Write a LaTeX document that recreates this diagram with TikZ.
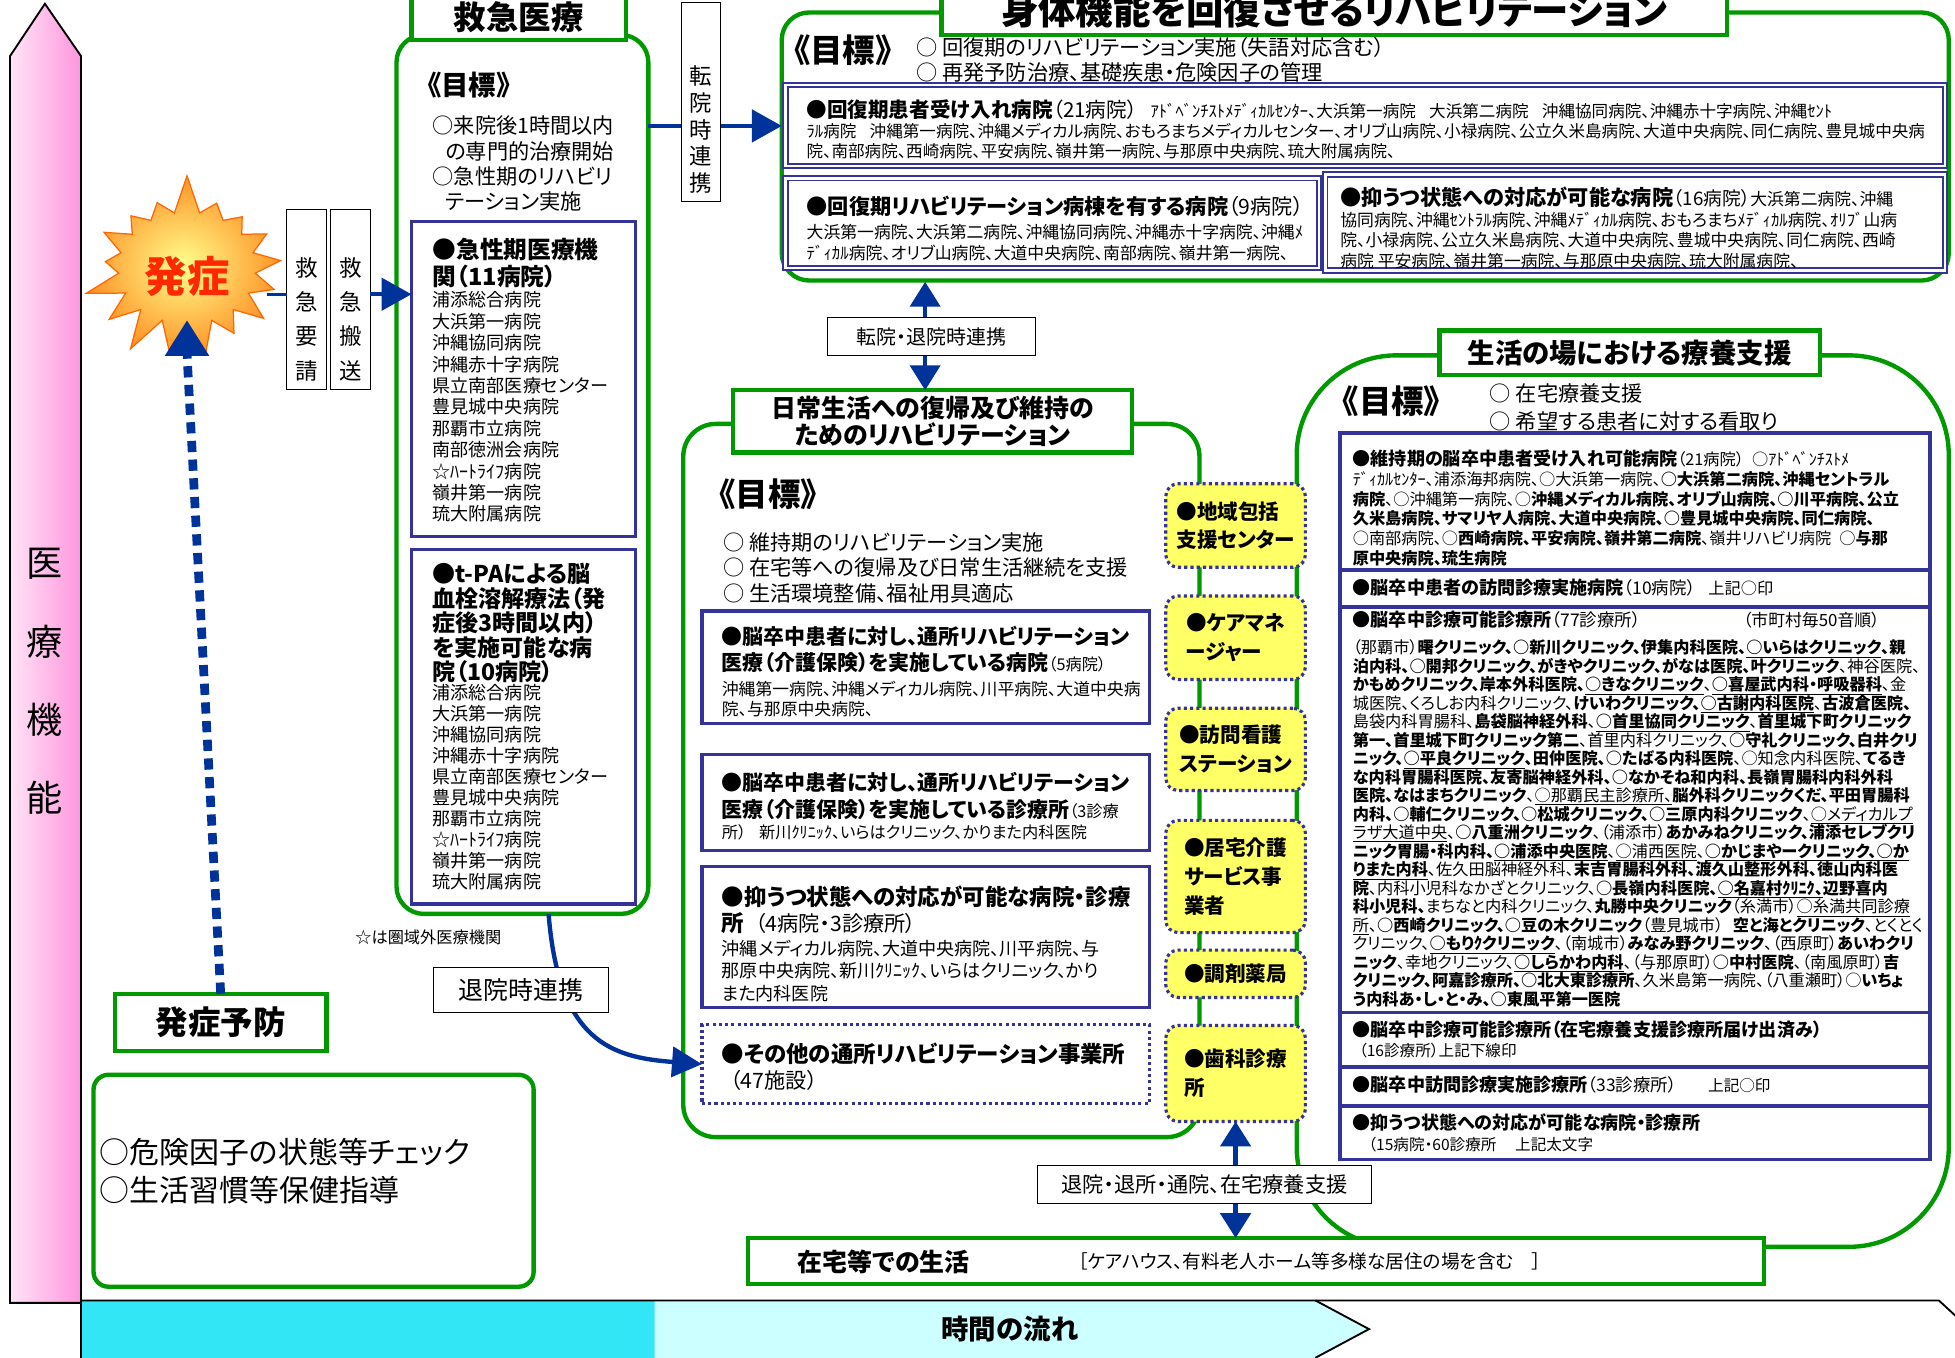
\documentclass[tikz,border=0pt]{standalone}
\usepackage{fontspec}
\setmainfont{Noto Sans CJK JP}[RawFeature=+palt]
\usetikzlibrary{shapes.symbols,arrows.meta,calc}
\definecolor{grn}{RGB}{0,153,0}
\definecolor{blu}{RGB}{51,51,153}
\definecolor{abl}{RGB}{0,51,153}
\definecolor{ylw}{RGB}{255,255,102}
\definecolor{cyd}{RGB}{51,230,245}
\definecolor{cyl}{RGB}{204,255,255}
\definecolor{pkl}{RGB}{255,228,246}
\definecolor{pkd}{RGB}{255,150,222}
\definecolor{hot}{RGB}{255,40,0}
\newcommand\fz[2]{\fontsize{#1}{#2}\selectfont}
\newcommand\udl[1]{\underline{#1}}
\begin{document}
\begin{tikzpicture}[x=1pt,y=-1pt,
  every node/.style={inner sep=0pt, outer sep=0pt},
  txt/.style={anchor=north west, align=left},
  gbox/.style={draw=grn, line width=3.5pt},
  gtitle/.style={draw=grn, line width=3.5pt, fill=white, font=\bfseries, align=center},
  bbox/.style={draw=blu, line width=2.5pt},
  dbox/.style={draw=blu, double=white, double distance=2pt, line width=1.5pt},
  ybox/.style={draw=blu, line width=2.5pt, dash pattern=on 2.5pt off 2.5pt, fill=ylw, rounded corners=10pt, minimum width=112pt, align=left, font=\bfseries\fz{16.5}{23}},
  lbox/.style={draw=black, line width=0.8pt, fill=white},
  tipa/.style={-{Triangle[length=24pt,width=26pt]}},
  tipb/.style={{Triangle[length=20pt,width=24pt]}-{Triangle[length=20pt,width=24pt]}},
]
\useasboundingbox (0,0) rectangle (1568,1089);
\fill[white] (0,0) rectangle (1568,1089);

% ---- left vertical arrow
\path[draw=black, line width=1.5pt, left color=pkl, right color=pkd] (8,1045) -- (8,45) -- (36,3) -- (65,45) -- (65,1045) -- cycle;
\node[font=\fz{29}{29}] (v1) at (36,452) {医};
\node[font=\fz{29}{29}] (v2) at (36,515) {療};
\node[font=\fz{29}{29}] (v3) at (36,577) {機};
\node[font=\fz{29}{29}] (v4) at (36,640) {能};

% ---- bottom time arrow
\fill[cyd] (65,1043) rectangle (525,1095);
\fill[cyl] (525,1043) -- (1055,1043) -- (1098,1066) -- (1055,1089) -- (525,1095) -- cycle;
\draw[line width=1.5pt] (65,1095) -- (65,1043) -- (1555,1043) -- (1580,1066);
\draw[line width=1.5pt] (1055,1043) -- (1098,1066) -- (1055,1089);
\node[font=\bfseries\fz{22}{22}] (flow) at (810,1066) {時間の流れ};

% ---- onset burst
\node[starburst, starburst points=17, starburst point height=32pt, minimum width=174pt, minimum height=154pt, draw=orange!80!red, line width=1pt, inner color=yellow!45, outer color=orange!85, random starburst=7] (burst) at (150,215) {};
\node[font=\bfseries\fz{34}{34}, text=hot] (onset) at (150,222) {発症};

% ---- request / transport boxes
\node[lbox, minimum width=32pt, minimum height=144pt] (reqbox) at (246,240) {};
\node[font=\fz{18}{27.5}, align=center] (reqtxt) at (246,256) {救\\急\\要\\請};
\node[lbox, minimum width=32pt, minimum height=144pt] (trbox) at (281,240) {};
\node[font=\fz{18}{27.5}, align=center] (trtxt) at (281,256) {救\\急\\搬\\送};
\coordinate (bse) at (214,236);
\draw[abl, line width=2.5pt] (bse) -- (bse -| reqbox.west);

% ---- prevention
\node[gbox, fill=white, minimum width=170pt, minimum height=46pt, font=\bfseries\fz{26}{26}] (prev) at (177,820) {発症予防};
\node[gbox, rounded corners=12pt, minimum width=353pt, minimum height=170pt] (prevbig) at (251.5,947) {};
\node[txt, font=\fz{24}{30}] (prevtxt) at (80,913) {○危険因子の状態等チェック\\○生活習慣等保健指導};
\coordinate (btip) at (150,258);
\draw[abl, line width=7pt, dash pattern=on 9pt off 6pt] (prev.north) -- ($(btip)+(0,26)$);
\draw[abl, line width=1pt, fill=abl] (btip) -- ++(-17,27) -- ++(34,0) -- cycle;

% ---- emergency column
\node[gbox, rounded corners=22pt, minimum width=202pt, minimum height=705pt] (emg) at (419,380.5) {};
\node[gtitle, minimum width=172pt, minimum height=36pt, font=\bfseries\fz{26}{26}] (emgt) at (416,14) {救急医療};
\node[anchor=west, font=\bfseries\fz{22}{22}] (emggoal) at (343,68) {《目標》};
\node[txt, font=\fz{17}{20.3}] (emgtxt) at (347,93) {○来院後1時間以内\\\hspace*{0.6em}の専門的治療開始\\○急性期のリハビリ\\\hspace*{0.6em}テーション実施};
\node[bbox, minimum width=180pt, minimum height=252pt] (acA) at (420,304) {};
\node[txt, font=\bfseries\fz{19}{21.5}] (acAh) at (347,191) {●急性期医療機\\関（11病院）};
\node[txt, font=\fz{14.5}{17.15}] (acAl) at (347,234) {浦添総合病院\\大浜第一病院\\沖縄協同病院\\沖縄赤十字病院\\県立南部医療センター\\豊見城中央病院\\那覇市立病院\\南部徳洲会病院\\☆ﾊｰﾄﾗｲﾌ病院\\嶺井第一病院\\琉大附属病院};
\node[bbox, minimum width=180pt, minimum height=284pt] (acB) at (420,583) {};
\node[txt, font=\bfseries\fz{18.5}{19.6}] (acBh) at (347,452) {●t-PAによる脳\\血栓溶解療法（発\\症後3時間以内）\\を実施可能な病\\院（10病院）};
\node[txt, font=\fz{14.5}{16.8}] (acBl) at (347,549) {浦添総合病院\\大浜第一病院\\沖縄協同病院\\沖縄赤十字病院\\県立南部医療センター\\豊見城中央病院\\那覇市立病院\\☆ﾊｰﾄﾗｲﾌ病院\\嶺井第一病院\\琉大附属病院};
\node[anchor=west, font=\fz{13}{13}] (outnote) at (285,752) {☆は圏域外医療機関};

\draw[abl, line width=3pt, tipa] (trbox.east |- bse) -- (acA.west |- bse);

% ---- recovery rehab box
\node[gbox, rounded corners=22pt, minimum width=936pt, minimum height=215pt] (rec) at (1095,117.5) {};
\node[gtitle, minimum width=630pt, minimum height=40pt, font=\bfseries\fz{30}{30}] (rect) at (1070,8) {身体機能を回復させるリハビリテーション};
\node[anchor=west, font=\bfseries\fz{26}{26}] (recgoal) at (637,40) {《目標》};
\node[txt, font=\fz{17}{20}] (rectxt) at (735,30) {○ 回復期のリハビリテーション実施（失語対応含む）\\○ 再発予防治療、基礎疾患・危険因子の管理};
\node[dbox, minimum width=930pt, minimum height=65pt] (r1) at (1095,100.5) {};
\node[txt, font=\fz{13.3}{16}] (r1t) at (647,80) {{\bfseries\fz{16.5}{16}●回復期患者受け入れ病院}{\fz{16.5}{16}（21病院）}\hspace{0.8em}ｱﾄﾞﾍﾞﾝﾁｽﾄﾒﾃﾞｨｶﾙｾﾝﾀｰ、大浜第一病院\hspace{0.8em}大浜第二病院\hspace{0.8em}沖縄協同病院、沖縄赤十字病院、沖縄ｾﾝﾄ\\ﾗﾙ病院\hspace{0.8em}沖縄第一病院、沖縄メディカル病院、おもろまちメディカルセンター、オリブ山病院、小禄病院、公立久米島病院、大道中央病院、同仁病院、豊見城中央病\\院、南部病院、西崎病院、平安病院、嶺井第一病院、与那原中央病院、琉大附属病院、};
\node[dbox, minimum width=428pt, minimum height=72pt] (r2) at (844,179) {};
\node[txt, font=\fz{17}{17}] (r2h) at (647,157) {{\bfseries ●回復期リハビリテーション病棟を有する病院}（9病院）};
\node[txt, font=\fz{13.5}{17}] (r2t) at (647,180) {大浜第一病院、大浜第二病院、沖縄協同病院、沖縄赤十字病院、沖縄ﾒ\\ﾃﾞｨｶﾙ病院、オリブ山病院、大道中央病院、南部病院、嶺井第一病院、};
\node[dbox, minimum width=497pt, minimum height=77pt] (r3) at (1311.5,178.5) {};
\node[txt, font=\fz{13.5}{17}] (r3h) at (1075,150) {{\bfseries\fz{17}{17}●抑うつ状態への対応が可能な病院}{\fz{15}{17}（16病院）}大浜第二病院、沖縄};
\node[txt, font=\fz{13.5}{16.5}] (r3t) at (1075,170) {協同病院、沖縄ｾﾝﾄﾗﾙ病院、沖縄ﾒﾃﾞｨｶﾙ病院、おもろまちﾒﾃﾞｨｶﾙ病院、ｵﾘﾌﾞ山病\\院、小禄病院、公立久米島病院、大道中央病院、豊城中央病院、同仁病院、西崎\\病院 平安病院、嶺井第一病院、与那原中央病院、琉大附属病院、};

% transfer arrow emergency -> recovery
\coordinate (c2) at (520,101);
\draw[abl, line width=3pt, tipa] (c2) -- (rec.west |- c2);
\node[lbox, minimum width=31pt, minimum height=160pt] (tenbox) at (562,82) {};
\node[font=\fz{18}{21.5}, align=center] (tentxt) at (562,104) {転\\院\\時\\連\\携};

% ---- daily life rehab
\node[gbox, rounded corners=26pt, minimum width=414pt, minimum height=572pt] (daily) at (755,626) {};
\node[gtitle, minimum width=320pt, minimum height=50pt, font=\bfseries\fz{20}{21.5}] (dailyt) at (748,338) {日常生活への復帰及び維持の\\ためのリハビリテーション};
\node[anchor=west, font=\bfseries\fz{26}{26}] (dailygoal) at (577,396) {《目標》};
\node[txt, font=\fz{17}{20.5}] (dailytxt) at (580,427) {○ 維持期のリハビリテーション実施\\○ 在宅等への復帰及び日常生活継続を支援\\○ 生活環境整備、福祉用具適応};
\node[bbox, minimum width=359pt, minimum height=90pt] (dA) at (742.5,535) {};
\node[txt, font=\bfseries\fz{16.8}{21}] (dAh) at (579,502) {●脳卒中患者に対し、通所リハビリテーション\\医療（介護保険）を実施している病院{\mdseries\fz{13}{21}（5病院）}};
\node[txt, font=\fz{13.5}{16.5}] (dAt) at (579,546) {沖縄第一病院、沖縄メディカル病院、川平病院、大道中央病\\院、与那原中央病院、};
\node[bbox, minimum width=359pt, minimum height=77pt] (dB) at (742.5,643.5) {};
\node[txt, font=\bfseries\fz{16.8}{22}] (dBh) at (579,619) {●脳卒中患者に対し、通所リハビリテーション\\医療（介護保険）を実施している診療所{\mdseries\fz{13}{22}（3診療}};
\node[txt, font=\fz{13}{16}] (dBt) at (579,661) {所）\hspace{0.8em}新川ｸﾘﾆｯｸ、いらはクリニック、かりまた内科医院};
\node[bbox, minimum width=359pt, minimum height=113pt] (dC) at (742.5,751.5) {};
\node[txt, font=\bfseries\fz{18}{21}] (dCh) at (579,710.5) {●抑うつ状態への対応が可能な病院・診療\\所{\mdseries\fz{17}{21}\hspace{0.5em}（4病院・3診療所）}};
\node[txt, font=\fz{14.5}{18}] (dCt) at (579,754) {沖縄メディカル病院、大道中央病院、川平病院、与\\那原中央病院、新川ｸﾘﾆｯｸ、いらはクリニック、かり\\また内科医院};
\node[draw=blu, line width=2.5pt, dash pattern=on 2.5pt off 2.5pt, minimum width=359pt, minimum height=63pt] (dD) at (742.5,853.5) {};
\node[txt, font=\bfseries\fz{18}{21}] (dDh) at (579,836.5) {●その他の通所リハビリテーション事業所\\{\mdseries\fz{17}{21}\hspace{0.4em}（47施設）}};

% emergency -> daily (discharge)
\coordinate (c1) at (440,733);
\draw[abl, line width=3.5pt, -{Triangle[length=24pt,width=24pt]}] (c1) .. controls (448,835) and (490,848) .. (dD.west);
\node[lbox, minimum width=140pt, minimum height=36pt, font=\fz{20}{20}] (taiin) at (418,794) {退院時連携};

% recovery <-> daily
\coordinate (c3) at (742,226);
\draw[abl, line width=3.5pt, tipb] (c3) -- (c3 |- dailyt.north);
\node[lbox, minimum width=167pt, minimum height=31pt, font=\fz{16}{16}] (tenlbl) at (747,270) {転院・退院時連携};

% ---- life support (big box behind)
\node[gbox, rounded corners=80pt, minimum width=523pt, minimum height=715pt] (life) at (1301.5,642.5) {};

% ---- yellow service boxes
\node[ybox, minimum height=67pt] (y1) at (991,421.5) {●地域包括\\支援センター};
\node[ybox, minimum height=67pt] (y2) at (991,511.5) {●ケアマネ\\ージャー};
\node[ybox, minimum height=66pt] (y3) at (991,601) {●訪問看護\\ステーション};
\node[ybox, minimum height=90pt] (y4) at (991,703) {●居宅介護\\サービス事\\業者};
\node[ybox, minimum height=38pt] (y5) at (991,781) {●調剤薬局};
\node[ybox, minimum height=77pt] (y6) at (991,861) {●歯科診療\\所};

% ---- home
\node[gbox, fill=white, minimum width=815pt, minimum height=37pt] (home) at (1007.5,1011.5) {};
\node[anchor=west, font=\bfseries\fz{20}{20}] (homet) at (640,1012) {在宅等での生活};
\node[anchor=west, font=\fz{15}{15}] (homes) at (865,1012) {［ケアハウス、有料老人ホーム等多様な居住の場を含む\hspace{1em}］};
\draw[abl, line width=4pt, tipb] (y6.south) -- (y6.south |- home.north);
\node[lbox, minimum width=268pt, minimum height=30pt, font=\fz{17}{17}] (homelbl) at (966,950) {退院・退所・通院、在宅療養支援};

% ---- life support contents
\node[gtitle, minimum width=305pt, minimum height=36pt, font=\bfseries\fz{22}{22}] (lifet) at (1307,283) {生活の場における療養支援};
\node[anchor=west, font=\bfseries\fz{26}{26}] (lifegoal) at (1077,322) {《目標》};
\node[txt, font=\fz{17}{22}] (lifetxt) at (1195,308) {○ 在宅療養支援\\○ 希望する患者に対する看取り};
\node[draw=blu, line width=3pt, fill=white, minimum width=473pt, minimum height=583pt] (rp) at (1311.5,638.5) {};
\foreach \yy in {457,487,812,856,887} \draw[blu, line width=3pt] (rp.west |- 0,\yy) -- (rp.east |- 0,\yy);
\node[txt, font=\fz{13}{15.8}] (s1) at (1085,361) {{\bfseries\fz{14.5}{15.8}●維持期の脳卒中患者受け入れ可能病院}（21病院）\hspace{0.5em}○ｱﾄﾞﾍﾞﾝﾁｽﾄﾒ\\ﾃﾞｨｶﾙｾﾝﾀｰ、浦添海邦病院、○大浜第一病院、\textbf{○大浜第二病院、沖縄セントラル}\\\textbf{病院}、○沖縄第一病院、○\textbf{沖縄メディカル病院、オリブ山病院、○川平病院、公立}\\\textbf{久米島病院、サマリヤ人病院、大道中央病院、○豊見城中央病院、同仁病院、}\\○南部病院、○\textbf{西崎病院、平安病院、嶺井第二病院}、嶺井リハビリ病院\hspace{0.5em}○\textbf{与那}\\\textbf{原中央病院、琉生病院}};
\node[txt, font=\fz{13}{15}] (s2) at (1085,464) {{\bfseries\fz{14.5}{15}●脳卒中患者の訪問診療実施病院}{\fz{14}{15}（10病院）}\hspace{0.8em}上記○印};
\node[txt, font=\fz{14}{15}] (s3h) at (1085,490) {{\bfseries\fz{14.5}{15}●脳卒中診療可能診療所}（77診療所）};
\node[anchor=west, font=\fz{13.5}{15}] (s3n) at (1398,497) {（市町村毎50音順）};
\node[txt, font=\fz{13}{14.85}] (s3) at (1085,513) {（那覇市）\textbf{曙クリニック、○新川クリニック、伊集内科医院、}\udl{\textbf{○いらはクリニック}}\textbf{、親}\\\textbf{泊内科、○開邦クリニック、がきやクリニック、がなは医院、叶クリニック}、神谷医院、\\\textbf{かもめクリニック、岸本外科医院、}\udl{\textbf{○きなクリニック}}、\udl{\textbf{○喜屋武内科・呼吸器科}}、金\\城医院、くろしお内科クリニック、\textbf{けいわクリニック、}\udl{\textbf{○古謝内科医院}}、\textbf{古波倉医院、}\\島袋内科胃腸科、\textbf{島袋脳神経外科}、\udl{\textbf{○首里協同クリニック}}、\textbf{首里城下町クリニック}\\\textbf{第一、首里城下町クリニック第二}、首里内科クリニック、\textbf{○守礼クリニック、白井クリ}\\\textbf{ニック、}\udl{\textbf{○平良クリニック}}\textbf{、田仲医院、○たばる内科医院}、○知念内科医院、\textbf{てるき}\\\textbf{な内科胃腸科医院、友寄脳神経外科、○なかそね和内科、長嶺胃腸科内科外科}\\\textbf{医院、なはまちクリニック}、\udl{○那覇民主診療所、}\textbf{脳外科クリニックくだ、平田胃腸科}\\\textbf{内科、○輔仁クリニック、○松城クリニック、○三原内科クリニック}、\udl{○メディカルプ}\\\udl{ラザ大道中央}、\textbf{○八重洲クリニック}、（浦添市）\textbf{あかみねクリニック、浦添セレブクリ}\\\textbf{ニック胃腸・科内科、}\udl{\textbf{○浦添中央医院}}、\udl{○浦西医院}、\udl{\textbf{○かじまやークリニック、○か}}\\\udl{\textbf{りまた内科}}、佐久田脳神経外科、\textbf{末吉胃腸科外科、渡久山整形外科、徳山内科医}\\\textbf{院}、内科小児科なかざとクリニック、\textbf{○長嶺内科医院、}\udl{\textbf{○名嘉村ｸﾘﾆｸ、}}\textbf{辺野喜内}\\\textbf{科小児科、}まちなと内科クリニック、\textbf{丸勝中央クリニック}（糸満市）\udl{○糸満共同診療}\\\udl{所}、\textbf{○西崎クリニック、○豆の木クリニック}（豊見城市）\hspace{0.6em}\textbf{空と海とクリニック}、とくとく\\クリニック、\udl{\textbf{○もりｸクリニック}}、（南城市）\textbf{みなみ野クリニック}、（西原町）\textbf{あいわクリ}\\\textbf{ニック}、幸地クリニック、\udl{\textbf{○しらかわ内科}}、（与那原町）\textbf{○中村医院}、（南風原町）\textbf{吉}\\\textbf{クリニック、阿嘉診療所、○北大東診療所}、久米島第一病院、（八重瀬町）○\textbf{いちょ}\\\textbf{う内科あ・し・と・み、○東風平第一医院}};
\node[txt, font=\fz{12.5}{16}] (s4) at (1085,819) {{\bfseries\fz{14.5}{16}●脳卒中診療可能診療所（在宅療養支援診療所届け出済み）}\\\hspace*{0.4em}（16診療所）上記下線印};
\node[txt, font=\fz{12.5}{15}] (s5) at (1085,863) {{\bfseries\fz{14.5}{15}●脳卒中訪問診療実施診療所}{\fz{14}{15}（33診療所）}\hspace{2em}上記○印};
\node[txt, font=\fz{12.5}{17}] (s6) at (1085,893) {{\bfseries\fz{14.5}{17}●抑うつ状態への対応が可能な病院・診療所}\\\hspace*{1em}（15病院・60診療所\hspace{1.2em}上記太文字};
\end{tikzpicture}
\end{document}
